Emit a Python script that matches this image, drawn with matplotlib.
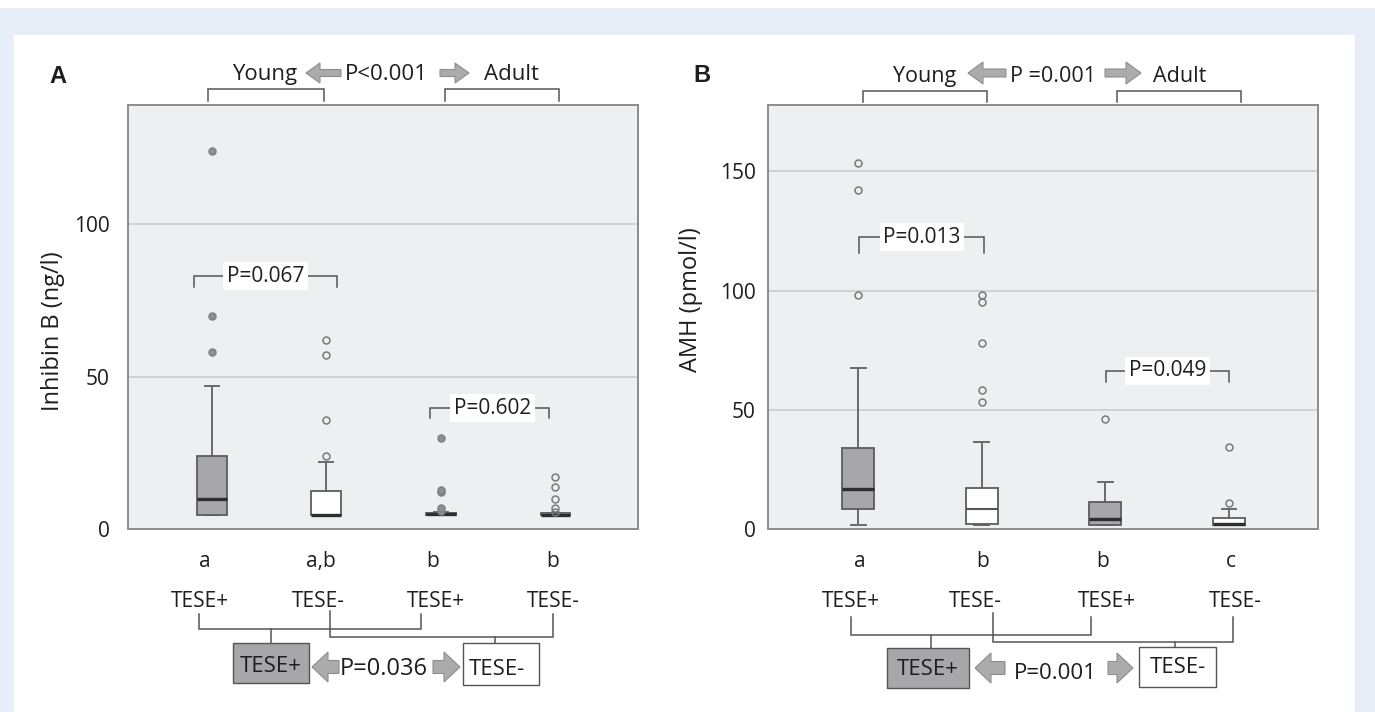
import matplotlib
matplotlib.use('Agg')
import matplotlib.pyplot as plt
from matplotlib.patches import Rectangle, Polygon

plt.rcParams['font.family'] = ['Open Sans', 'DejaVu Sans']

# ---- data ----
groups = ['Young TESE+', 'Young TESE-', 'Adult TESE+', 'Adult TESE-']
tese_labels = ['TESE+', 'TESE-', 'TESE+', 'TESE-']
letters_A = ['a', 'a,b', 'b', 'b']
letters_B = ['a', 'b', 'b', 'c']

# Inhibin B (ng/l)
inhb_q1 = [4.7, 4.7, 4.7, 4.7]
inhb_med = [10.0, 4.8, 4.9, 4.8]
inhb_q3 = [24.0, 12.5, 5.5, 5.3]
inhb_lo = [4.7, 4.7, 4.7, 4.7]
inhb_hi = [47.0, 22.0, 5.8, 5.3]
inhb_out = [[58.0, 70.0, 124.0],
            [24.0, 35.9, 57.0, 62.0],
            [6.1, 6.9, 12.1, 12.9, 29.9],
            [5.8, 7.1, 10.0, 14.0, 17.0]]

# AMH (pmol/l)
amh_q1 = [8.6, 2.1, 1.8, 1.8]
amh_med = [17.0, 8.5, 4.5, 2.1]
amh_q3 = [34.1, 17.5, 11.5, 4.9]
amh_lo = [1.8, 1.8, 1.8, 1.8]
amh_hi = [67.5, 36.7, 19.7, 8.7]
amh_out = [[98.1, 142.2, 153.7],
           [53.4, 58.4, 78.2, 95.4, 98.2],
           [46.1],
           [11.2, 34.4]]

W, H = 1375, 712
TXT = '#1e1e1e'
GRAY = '#a7a7a9'
LINE = '#555555'

fig = plt.figure(figsize=(W / 100, H / 100), dpi=100)

# background frame
bg = fig.add_axes([0, 0, 1, 1], zorder=-5)
bg.set_xlim(0, W)
bg.set_ylim(H, 0)
bg.axis('off')
bg.add_patch(Rectangle((0, 8), W, H - 8, fc='#e7eef8', ec='none'))
bg.add_patch(Rectangle((14, 35), 1341, H - 35, fc='white', ec='none'))


def box_axes(left, right, top, bottom):
    return fig.add_axes([left / W, 1 - bottom / H, (right - left) / W, (bottom - top) / H])


def draw_boxes(ax, q1, med, q3, lo, hi, out, fill_fliers):
    stats = []
    for i in range(len(groups)):
        stats.append(dict(label=groups[i], q1=q1[i], med=med[i], q3=q3[i],
                          whislo=lo[i], whishi=hi[i], fliers=out[i]))
    pos = [1, 2, 3, 4]
    res = ax.bxp(stats, positions=pos, widths=0.26, capwidths=0.12,
                 patch_artist=True,
                 boxprops=dict(edgecolor='#5c5c5c', linewidth=1.3),
                 medianprops=dict(color='#2e2e2e', linewidth=2.4),
                 whiskerprops=dict(color='#6a6a6a', linewidth=1.4),
                 capprops=dict(color='#6a6a6a', linewidth=1.4),
                 flierprops=dict(marker='o', markersize=5, markeredgecolor='#7a7a7a',
                                 markerfacecolor='none', markeredgewidth=1.1))
    for i, b in enumerate(res['boxes']):
        b.set_facecolor(GRAY if tese_labels[i] == 'TESE+' else 'white')
        b.set_zorder(3)
    for m in res['medians']:
        m.set_zorder(4)
    for i, f in enumerate(res['fliers']):
        f.set_zorder(4)
        if fill_fliers and tese_labels[i] == 'TESE+':
            f.set_markerfacecolor('#909090')
            f.set_markeredgecolor('#808080')
    ax.set_xlim(0.27, 4.72)
    ax.set_facecolor('#eeeff1')
    for s in ax.spines.values():
        s.set_color('#8c8c8c')
        s.set_linewidth(1.4)
    ax.set_xticks([])
    ax.tick_params(axis='y', length=0, labelsize=15, labelcolor=TXT)
    ax.grid(axis='y', color='#c9c9c9', linewidth=1.1)
    ax.set_axisbelow(True)
    return res


axA = box_axes(128, 638, 105, 529.4)
draw_boxes(axA, inhb_q1, inhb_med, inhb_q3, inhb_lo, inhb_hi, inhb_out, True)
axA.set_ylim(0, 139)
axA.set_yticks([0, 50, 100])
axA.tick_params(axis='y', pad=13)

axB = box_axes(768, 1318, 105, 529.3)
resB = draw_boxes(axB, amh_q1, amh_med, amh_q3, amh_lo, amh_hi, amh_out, False)
resB['medians'][1].set_linewidth(1.5)
resB['medians'][1].set_color('#555555')
axB.set_ylim(0, 177.8)
axB.set_yticks([0, 50, 100, 150])
axB.tick_params(axis='y', pad=9)

# overlay for annotations, in pixel coordinates
ov = fig.add_axes([0, 0, 1, 1], zorder=10)
ov.set_xlim(0, W)
ov.set_ylim(H, 0)
ov.axis('off')
ov.patch.set_alpha(0)


def t(x, y, s, size=15, **kw):
    kw.setdefault('ha', 'center')
    kw.setdefault('va', 'baseline')
    ov.text(x, y, s, fontsize=size, color=TXT, **kw)


def poly(pts, **kw):
    xs, ys = zip(*pts)
    ov.plot(xs, ys, color=kw.get('color', LINE), lw=kw.get('lw', 1.1),
            solid_joinstyle='miter')


def bracket(x0, x1, ytop, ybot):
    poly([(x0, ybot), (x0, ytop), (x1, ytop), (x1, ybot)])


def arrow(x_tail, x_tip, yc, head_h, shaft_h, head_len):
    d = 1 if x_tip > x_tail else -1
    xb = x_tip - d * head_len
    pts = [(x_tail, yc - shaft_h / 2), (xb, yc - shaft_h / 2), (xb, yc - head_h / 2),
           (x_tip, yc), (xb, yc + head_h / 2), (xb, yc + shaft_h / 2),
           (x_tail, yc + shaft_h / 2)]
    ov.add_patch(Polygon(pts, closed=True, fc='#ababab', ec='#8e8e8e', lw=0.8))


def plabel(x, y, s):
    ov.text(x, y, s, fontsize=15, color=TXT, ha='center', va='center',
            bbox=dict(fc='white', ec='none', pad=2.5))


# ---- panel A annotations ----
ov.text(58, 82.7, 'A', fontsize=17, fontweight='bold', ha='center', va='baseline',
        color=TXT, family=['Liberation Sans', 'DejaVu Sans'])
t(265, 80, 'Young', size=16)
arrow(341, 306, 73, 20, 7, 14)
t(386, 80, 'P<0.001', size=16)
arrow(440, 469, 73, 20, 7, 14)
t(512, 80, 'Adult', size=16)
bracket(208.5, 323.7, 89.3, 100.7)
bracket(444.6, 559.4, 89.3, 100.7)

bracket(194, 337, 276, 287)
plabel(265.6, 276, 'P=0.067')
bracket(430, 549, 407.7, 418)
plabel(492.5, 408, 'P=0.602')

ov.text(53, 331, 'Inhibin B (ng/l)', fontsize=17, color=TXT, rotation=90,
        ha='center', va='center')

for x, s in zip([205, 321, 433, 553], letters_A):
    t(x, 567, s)
for x, s in zip([200, 318, 436, 553], tese_labels):
    t(x, 607, s)
poly([(198.7, 614), (198.7, 629.3), (421.5, 629.3), (421.5, 614)])
poly([(271, 629.3), (271, 643.3)])
poly([(329.6, 611), (329.6, 636.7), (553.5, 636.7), (553.5, 614)])
poly([(495.3, 636.7), (495.3, 643.3)])
ov.add_patch(Rectangle((232.8, 643.3), 75.8, 39.4, fc=GRAY, ec='#555555', lw=1))
t(270.7, 671.7, 'TESE+', size=16)
arrow(339, 312, 667, 30, 13, 16)
t(384, 675, 'P=0.036', size=17)
arrow(433, 460, 667, 30, 13, 16)
ov.add_patch(Rectangle((462.8, 643.3), 76.5, 41.7, fc='white', ec='#555555', lw=1))
t(497, 675, 'TESE-', size=16)

# ---- panel B annotations ----
ov.text(702, 81.7, 'B', fontsize=17, fontweight='bold', ha='center', va='baseline',
        color=TXT, family=['Liberation Sans', 'DejaVu Sans'])
t(925, 81.7, 'Young', size=15.5)
arrow(1006, 968, 73, 22, 8, 15)
t(1053, 81.7, 'P =0.001', size=15.5)
arrow(1105, 1141, 73, 22, 8, 15)
t(1180, 81.7, 'Adult', size=15.5)
bracket(863, 987, 90.7, 102)
bracket(1117.5, 1241, 90.7, 102)

bracket(859.5, 983.6, 237.3, 253.3)
plabel(922, 237.3, 'P=0.013')
bracket(1105.7, 1229.3, 370.7, 381.7)
plabel(1167.7, 371, 'P=0.049')

ov.text(691, 300, 'AMH (pmol/l)', fontsize=17, color=TXT, rotation=90,
        ha='center', va='center')

for x, s in zip([859.5, 983, 1102.5, 1231], letters_B):
    t(x, 567, s)
for x, s in zip([851.4, 975, 1106.5, 1235], tese_labels):
    t(x, 607, s)
poly([(851.4, 616.7), (851.4, 635), (1091.5, 635), (1091.5, 616.7)])
poly([(931, 635), (931, 648.3)])
poly([(993, 613), (993, 641.7), (1233.3, 641.7), (1233.3, 616.7)])
poly([(1175.4, 641.7), (1175.4, 646.7)])
ov.add_patch(Rectangle((886.6, 648.3), 82.2, 40, fc=GRAY, ec='#555555', lw=1))
t(927.7, 675, 'TESE+', size=16)
arrow(1005, 975, 668, 30, 13, 16)
t(1055, 679, 'P=0.001', size=16)
arrow(1108, 1133, 668, 30, 13, 16)
ov.add_patch(Rectangle((1139, 646.7), 77, 40, fc='white', ec='#555555', lw=1))
t(1177.5, 673, 'TESE-', size=16)

fig.savefig('out.png', dpi=100)
